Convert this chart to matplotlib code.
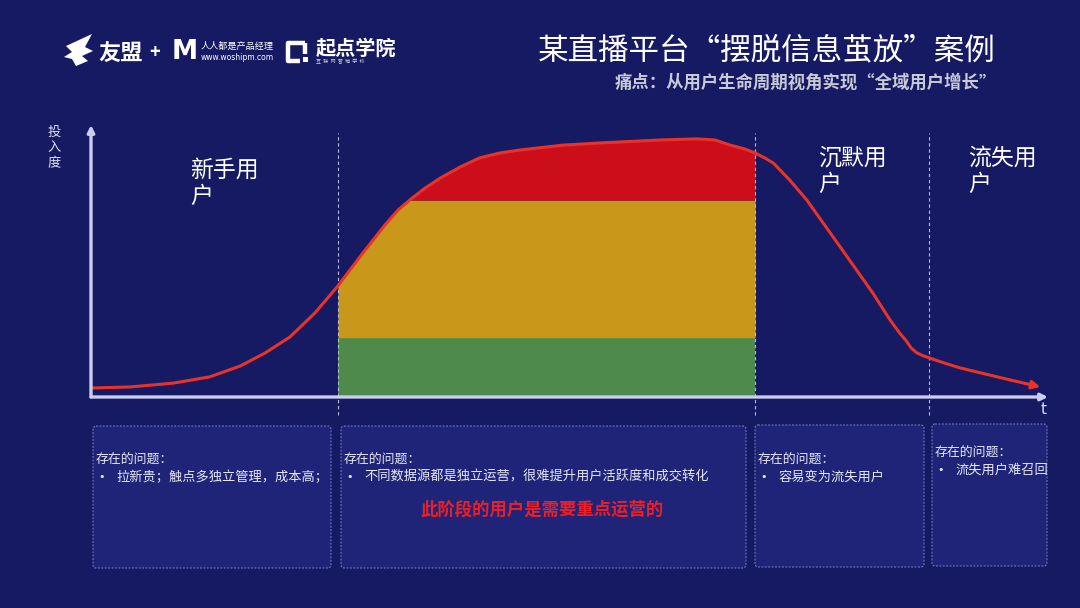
import numpy as np
import matplotlib
matplotlib.use("Agg")
import matplotlib.pyplot as plt
from matplotlib.patches import Rectangle, FancyBboxPatch, Polygon

plt.rcParams['font.family'] = ['Noto Sans CJK SC', 'DejaVu Sans']

# ---------------- data ----------------
# lifecycle curve: t (0-100) vs investment level (0-100)
curve_t = [0.0, 4.1, 8.6, 12.4, 15.6, 18.2, 20.8, 23.4, 25.7, 28.4, 30.7, 32.1,
           33.3, 34.9, 36.5, 38.6, 40.6, 42.7, 44.8, 49.3, 53.2, 59.5, 63.3,
           65.2, 66.8, 68.3, 69.4, 70.4, 71.3, 73.0, 74.8, 78.3, 81.7, 83.5,
           84.5, 85.2, 85.7, 86.3, 87.0, 87.9, 88.9, 90.8, 93.4, 96.0, 99.2]
curve_y = [3.3, 3.7, 5.1, 7.4, 11.4, 16.2, 22.1, 30.9, 40.4, 52.9, 63.2, 68.8,
           72.4, 76.8, 80.5, 84.6, 87.9, 89.7, 90.8, 92.6, 93.4, 94.5, 94.9,
           94.5, 92.6, 91.2, 89.7, 87.9, 86.0, 79.8, 72.4, 55.1, 38.2, 28.3,
           23.5, 20.6, 18.0, 16.2, 15.1, 14.0, 12.8, 10.7, 8.5, 6.3, 3.7]
stage_bounds = [25.8, 69.4, 87.6]          # dashed separators (t)
band_levels = [0.0, 21.8, 72.4]            # green / yellow / red band bottoms
band_colors = ['#4e8a4b', '#c9971a', '#cc0e1a']
stage_names = ['新手用\n户', '超级用户', '沉默用\n户', '流失用\n户']
y_label = '投\n入\n度'
x_label = 't'
title = '某直播平台“摆脱信息茧放”案例'
subtitle = '痛点：从用户生命周期视角实现“全域用户增长”'
box_head = '存在的问题：'
box_items = ['拉新贵；触点多独立管理，成本高；',
             '不同数据源都是独立运营，很难提升用户活跃度和成交转化',
             '容易变为流失用户',
             '流失用户难召回']
highlight = '此阶段的用户是需要重点运营的'

BG = '#151a62'
W, H = 1080, 608
fig = plt.figure(figsize=(W / 100, H / 100), dpi=100, facecolor=BG)

# overlay axes in pixel coordinates
ov = fig.add_axes([0, 0, 1, 1])
ov.set_xlim(0, W)
ov.set_ylim(H, 0)
ov.axis('off')
ov.set_facecolor(BG)

# chart axes
x0, x1, yb, yt = 91, 1048, 397, 125
ax = fig.add_axes([x0 / W, (H - yb) / H, (x1 - x0) / W, (yb - yt) / H])
ax.set_xlim(0, 100)
ax.set_ylim(0, 100)
ax.axis('off')
ax.patch.set_alpha(0)

ct = np.array(curve_t)
cy = np.array(curve_y)

# bands in the "super user" stage
tt = np.linspace(stage_bounds[0], stage_bounds[1], 400)
yy = np.interp(tt, ct, cy)
tops = band_levels[1:] + [200]
for lo, hi, col in zip(band_levels, tops, band_colors):
    top = np.clip(yy, lo, hi)
    ax.fill_between(tt, lo, top, where=yy > lo, color=col, lw=0, zorder=2)

# curve
ax.plot(ct[:-1], cy[:-1], color='#e8332a', lw=2.2, zorder=4,
        solid_capstyle='round', solid_joinstyle='round')
ax.annotate('', xy=(ct[-1], cy[-1]), xytext=(ct[-2], cy[-2]),
            arrowprops=dict(arrowstyle='-|>', color='#e8332a', lw=2.2,
                            mutation_scale=12, shrinkA=0, shrinkB=0), zorder=4)

# dashed separators
for b in stage_bounds:
    ax.plot([b, b], [-6.5, 97], color='#b8bcd8', lw=0.8, ls=(0, (3, 2.5)),
            zorder=3, clip_on=False)

# axes with arrows
axcol = '#c9cdf0'
ax.annotate('', xy=(0, 100), xytext=(0, 0),
            arrowprops=dict(arrowstyle='-|>', color=axcol, lw=2.4,
                            mutation_scale=10, shrinkA=0, shrinkB=0),
            annotation_clip=False, zorder=5)
ax.annotate('', xy=(100, 0), xytext=(0, 0),
            arrowprops=dict(arrowstyle='-|>', color=axcol, lw=2.4,
                            mutation_scale=10, shrinkA=0, shrinkB=0),
            annotation_clip=False, zorder=5)

# axis labels
ov.text(54, 148, y_label, color='#e0e2f0', fontsize=9.5, ha='center', va='center',
        linespacing=1.25)
ov.text(1044, 410, x_label, color='#e0e2f0', fontsize=11, ha='center', va='center',
        family='DejaVu Sans')

# stage names
for (sx, sy), name in zip([(190, 159), (818, 147), (968, 147)],
                          [stage_names[0], stage_names[2], stage_names[3]]):
    ov.text(sx, sy, name, color='white', fontsize=16.5, ha='left', va='top',
            linespacing=1.15)
ov.text(578, 170, stage_names[1], color='#f2e0e0', fontsize=11.5, ha='center',
        va='center', zorder=6)

# title & subtitle
ov.text(996, 51, title, color='white', fontsize=22, ha='right', va='center')
ov.text(997, 83, subtitle, color='#c8cad8', fontsize=12.5, ha='right', va='center',
        fontweight='bold')

# logos
wing = Polygon([(66, 46), (92, 34), (85, 47), (93, 51), (82, 56), (88, 61),
                (76, 66), (72, 59), (64, 57), (72, 52)], closed=True,
               fc='white', ec='none')
ov.add_patch(wing)
ov.text(98, 53, '友盟', color='white', fontsize=16, fontweight='bold',
        ha='left', va='center')
ov.text(155, 53, '+', color='white', fontsize=13, fontweight='bold',
        ha='center', va='center')
ov.text(185, 52, 'M', color='white', fontsize=19, fontweight='bold',
        ha='center', va='center', family='DejaVu Sans')
ov.text(201, 46, '人人都是产品经理', color='white', fontsize=6.6, ha='left', va='center')
ov.text(201, 58, 'www.woshipm.com', color='white', fontsize=5.5, ha='left',
        va='center', family='DejaVu Sans')
ov.plot([305, 288, 288, 300], [43, 43, 61, 61], color='white', lw=3.2,
        solid_capstyle='butt')
ov.plot([305, 305], [43, 54], color='white', lw=3.2, solid_capstyle='butt')
ov.add_patch(Rectangle((303, 57), 5, 5, fc='white', ec='none'))
ov.text(316, 48, '起点学院', color='white', fontsize=14.5, fontweight='bold',
        ha='left', va='center')
ov.text(316, 62, '互  联  网  营  销  学  校', color='#d0d0e0', fontsize=3.6,
        ha='left', va='center')

# problem boxes
boxes = [(93, 426, 331, 568), (341, 426, 746, 568), (755, 425, 924, 567),
         (932, 424, 1047, 566)]
head_y = [460, 460, 460, 453]
for (bx0, by0, bx1, by1), item, hy in zip(boxes, box_items, head_y):
    ov.add_patch(FancyBboxPatch((bx0, by0), bx1 - bx0, by1 - by0,
                                boxstyle='round,pad=0,rounding_size=3',
                                fc='#1f2479', ec='#7c82c4', lw=0.7,
                                ls=(0, (2, 1.5)), zorder=1))
    ov.text(bx0 + 3, hy, box_head, color='#e6e8f4', fontsize=9.3, ha='left',
            va='center', zorder=2)
    ov.text(bx0 + 5, hy + 17, '•', color='#e6e8f4', fontsize=8, ha='left',
            va='center', zorder=2, family=['DejaVu Sans'])
    ov.text(bx0 + 23, hy + 17, item, color='#e6e8f4', fontsize=9.5, ha='left',
            va='center', zorder=2)

ov.text(542, 510, highlight, color='#e8202a', fontsize=12.5, fontweight='bold',
        ha='center', va='center', zorder=2)

fig.savefig('out.png', dpi=100, facecolor=BG)
